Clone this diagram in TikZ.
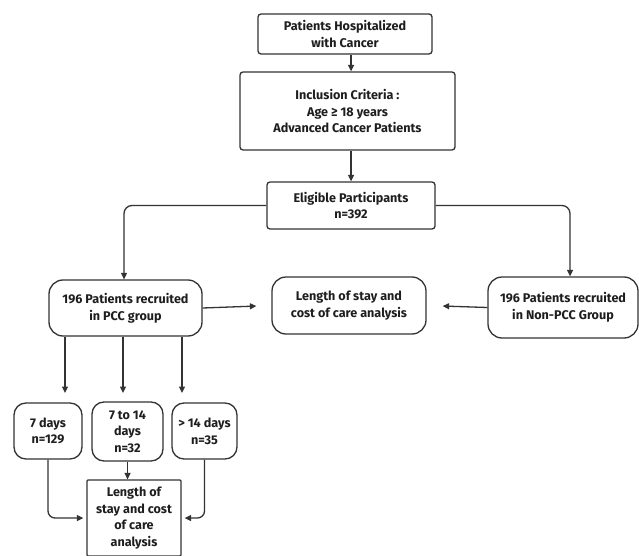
\documentclass[tikz,border=0pt]{standalone}
\usepackage{fontspec}
\setmainfont{Fira Sans}
\usetikzlibrary{arrows.meta}
\definecolor{ln}{HTML}{333333}
\definecolor{tx}{HTML}{1E1E1E}
\tikzset{
  box/.style={draw=ln, line width=1.3pt, fill=white, align=center, text=tx,
    font=\fontsize{12.6}{16.7}\selectfont\bfseries, inner sep=1pt, rounded corners=3pt},
  rbox/.style={box, rounded corners=14pt},
  sbox/.style={box, rounded corners=12pt},
  arr/.style={draw=ln, line width=1.3pt, -{Triangle[length=6.5pt,width=6pt]}},
  con/.style={draw=ln, line width=1.3pt}
}
\begin{document}
\begin{tikzpicture}[x=1pt,y=-1pt]
\useasboundingbox (0,0) rectangle (639,556);
\node[box, minimum width=174pt, minimum height=40pt] (b1) at (345,34) {Patients Hospitalized\\with Cancer};
\node[box, minimum width=215pt, minimum height=78pt] (b2) at (347.5,111) {Inclusion Criteria :\\Age ≥ 18 years\\Advanced Cancer Patients};
\node[box, minimum width=168pt, minimum height=47pt] (b3) at (351,205.5) {Eligible Participants\\n=392};
\node[rbox, minimum width=153pt, minimum height=56pt] (pcc) at (125.5,308) {196 Patients recruited\\in PCC group};
\node[rbox, minimum width=154pt, minimum height=57pt] (mid) at (349,305.5) {Length of stay and\\cost of care analysis};
\node[rbox, minimum width=150pt, minimum height=61pt] (npcc) at (563,307.5) {196 Patients recruited\\in Non-PCC Group};
\node[sbox, minimum width=68pt, minimum height=56pt] (d7) at (48,431) {7 days\\n=129};
\node[sbox, minimum width=71pt, minimum height=59pt] (d714) at (127.5,431.5) {7 to 14\\days\\n=32};
\node[sbox, minimum width=65pt, minimum height=56pt] (d14) at (204.5,431) {> 14 days\\n=35};
\node[box, rounded corners=1pt, minimum width=94pt, minimum height=76pt] (fin) at (134,518) {Length of\\stay and cost\\of care\\analysis};
\coordinate (a1) at (65,393);
\coordinate (a2) at (123,393);
\coordinate (a3) at (182,393);
\draw[arr] (b1.south -| b3) -- (b2.north -| b3);
\draw[arr] (b2.south -| b3) -- (b3.north);
\draw[arr, rounded corners=8pt] (b3.west) -| ([xshift=-1.5pt]pcc.north);
\draw[arr, rounded corners=8pt] (b3.east) -| ([xshift=7pt]npcc.north);
\draw[arr, shorten >=15pt] (pcc.east) -- (mid.west);
\draw[arr, shorten >=16pt] (npcc.west) -- (mid.east);
\draw[arr] (pcc.south -| a1) -- (a1);
\draw[arr] (pcc.south -| a2) -- (a2);
\draw[arr] (pcc.south -| a3) -- (a3);
\draw[arr] (d714.south) -- (fin.north -| d714.south);
\draw[arr, rounded corners=7pt, shorten >=3pt] (d7.south) |- (fin.west);
\draw[arr, rounded corners=7pt, shorten >=3pt] (d14.south) |- (fin.east);
\end{tikzpicture}
\end{document}
